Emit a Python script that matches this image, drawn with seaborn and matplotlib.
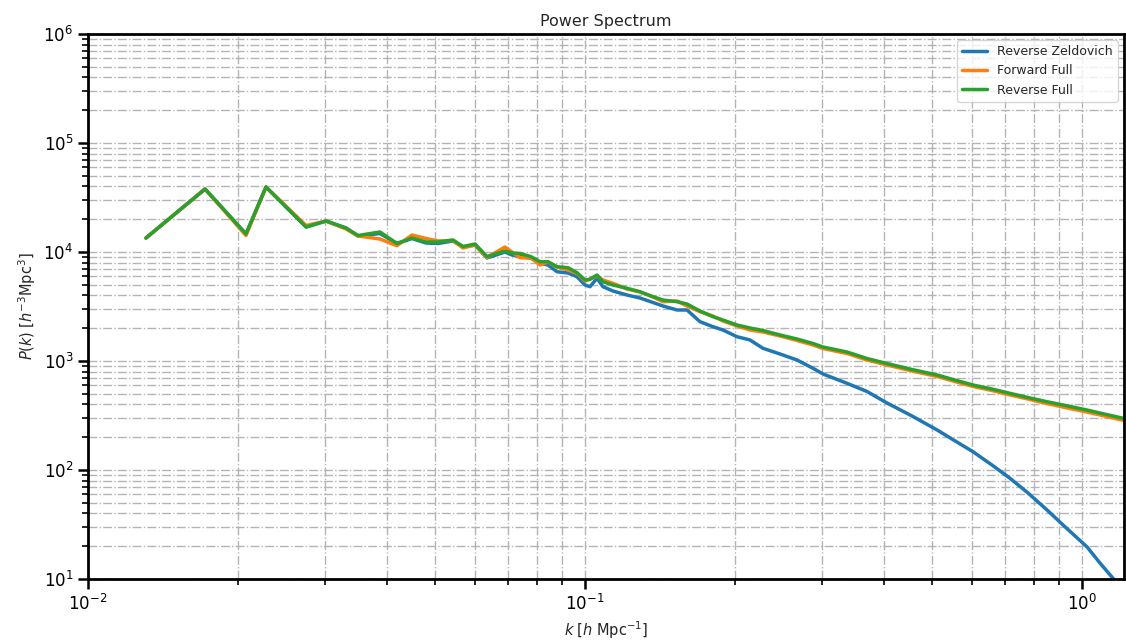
import matplotlib
matplotlib.use('Agg')
import matplotlib.pyplot as plt
import pandas as pd
import seaborn as sns

# k bins [h/Mpc], shared by all three runs
k = [0.01308, 0.01720, 0.02079, 0.02281, 0.02747, 0.03012, 0.03304, 0.03494,
     0.03868, 0.04184, 0.04486, 0.04788, 0.05061, 0.05425, 0.05682, 0.06008,
     0.06350, 0.06902, 0.07130, 0.07399, 0.07786, 0.08119, 0.08425, 0.08784,
     0.09244, 0.09636, 0.1000, 0.10235, 0.10571, 0.10868, 0.11383, 0.12148,
     0.12901, 0.13702, 0.14352, 0.15316, 0.16041, 0.17035, 0.18089, 0.18948,
     0.20222, 0.21478, 0.22807, 0.24685, 0.26713, 0.28765, 0.30125, 0.33671,
     0.36933, 0.40516, 0.45499, 0.51096, 0.55527, 0.60364, 0.65918, 0.71648,
     0.77875, 0.85036, 0.91584, 1.0235, 1.0869, 1.1546, 1.2148]

pk_rev_zeldovich = [13440, 37840, 14630, 39470, 16960, 19250, 16600, 14020,
                    14780, 11970, 13300, 12090, 11970, 12620, 11110, 11590,
                    8810, 10000, 9390, 9060, 8810, 7876, 7599, 6596,
                    6417, 5934, 4980, 4805, 5737, 4805, 4387, 4032,
                    3784, 3441, 3195, 2937, 2937, 2294, 2064, 1925,
                    1671, 1559, 1308, 1159, 1021, 857, 760, 624,
                    525, 412, 313, 233, 185, 147, 111, 83.9,
                    61.5, 43.0, 31.3, 19.7, 14.0, 10.15, 7.13]

pk_fwd_full = [13440, 37840, 14170, 39470, 17500, 19250, 16260, 14020,
               13160, 11420, 14320, 13300, 12620, 12750, 10880, 11590,
               8900, 11110, 10000, 8865, 8810, 7599, 8095, 7285,
               6839, 6378, 5419, 5653, 6023, 5535, 5161, 4577,
               4295, 3866, 3499, 3552, 3195, 2833, 2587, 2328,
               2095, 1925, 1845, 1696, 1542, 1402, 1302, 1172,
               1021, 919, 810, 721, 648, 584, 536, 488,
               448, 407, 378, 340, 320, 300, 285]

pk_rev_full = [13440, 37840, 14630, 39470, 16960, 19250, 16600, 14170,
               15260, 11970, 13440, 12350, 12350, 12890, 11230, 11840,
               9090, 10210, 9790, 9690, 9060, 8150, 8150, 7331,
               7178, 6459, 5535, 5617, 6152, 5340, 4980, 4645,
               4323, 3890, 3627, 3499, 3334, 2875, 2549, 2377,
               2139, 2009, 1905, 1732, 1591, 1447, 1344, 1209,
               1054, 948, 836, 744, 669, 602, 553, 505,
               462, 423, 395, 355, 333, 313, 297]

labels = ['Reverse Zeldovich', 'Forward Full', 'Reverse Full']
colors = ['#1f77b4', '#ff7f0e', '#2ca02c']

frames = []
for name, pk in zip(labels, [pk_rev_zeldovich, pk_fwd_full, pk_rev_full]):
    frames.append(pd.DataFrame({'k': k, 'P': pk, 'run': name}))
df = pd.concat(frames, ignore_index=True)

sns.set_style("ticks")
plt.rcParams['font.family'] = ['DejaVu Sans']

fig = plt.figure(figsize=(11.26, 6.41), dpi=100)
ax = fig.add_axes([88 / 1126, 1 - 579 / 641, 1036 / 1126, 545 / 641])

sns.lineplot(data=df, x='k', y='P', hue='run', hue_order=labels,
             palette=colors, linewidth=2.5, estimator=None, ax=ax)

ax.set_xscale('log')
ax.set_yscale('log')
ax.set_xlim(0.01, 1.2148)
ax.set_ylim(10, 1e6)

ax.grid(True, which='both', ls='-.', color='#b4b4b4', lw=1.0)
for s in ax.spines.values():
    s.set_linewidth(2.0)
    s.set_color('black')
ax.tick_params(which='major', length=7, width=1.8, labelsize=12, colors='black')
ax.tick_params(which='minor', length=4, width=1.4)

ax.set_title('Power Spectrum', fontsize=11.5)
ax.set_xlabel(r'$k\;[h\ \mathrm{Mpc}^{-1}]$', fontsize=10.5)
ax.set_ylabel(r'$P(k)\;[h^{-3}\mathrm{Mpc}^3]$', fontsize=10.5)

leg = ax.legend(loc='upper right', fontsize=9, frameon=True)
leg.set_title(None)

plt.savefig('out.png', dpi=100)
